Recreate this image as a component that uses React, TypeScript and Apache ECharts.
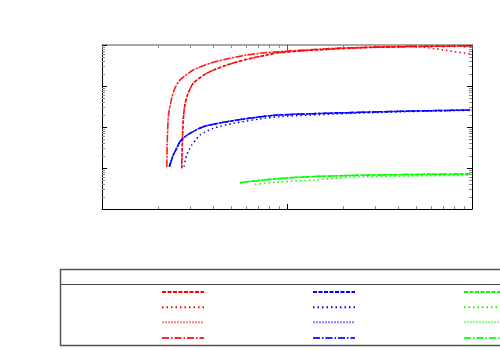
import React, { useEffect, useRef } from "react";
import * as echarts from "echarts";

// Red curves
const RED_LEFT_X = [2.237, 2.259, 2.288, 2.381, 2.481, 2.64, 3.116, 3.836, 4.722, 6.056, 7.146, 8.974, 20.07, 47.97, 100];
const RED_LEFT_Y = [10.76, 63.8, 196.2, 501, 894, 1400, 2456, 3578, 4558, 5702, 6279, 6869, 8450, 9190, 9460];
const RED_RIGHT_X = [2.697, 2.716, 2.748, 2.81, 2.899, 3.116, 3.681, 4.722, 6.056, 7.77, 8.974, 20.07, 47.97, 100];
const RED_RIGHT_Y = [9.83, 36.4, 148.2, 364, 603, 1164, 2041, 3252, 4477, 5702, 6486, 8222, 9190, 9460];
const RED_DOT_X = [2.697, 2.716, 2.748, 2.81, 2.899, 3.116, 3.681, 4.722, 6.056, 7.77, 8.974, 20.07, 47.97, 69.98, 100];
const RED_DOT_Y = [9.83, 36.4, 148.2, 364, 603, 1164, 2041, 3252, 4477, 5702, 6486, 8222, 9300, 7551, 5932];
// Blue curves
const BLUE_X = [2.311, 2.36, 2.429, 2.533, 2.64, 2.81, 2.99, 3.528, 4.722, 6.575, 8.974, 21.02, 48.17, 99.6];
const BLUE_Y = [10.76, 14.25, 20.75, 30.2, 43.8, 58.0, 70.2, 101.7, 134.6, 168.6, 196.2, 223.3, 245.6, 259.9];
const BLUE_DOT_X = [2.775, 2.82, 2.87, 2.953, 3.054, 3.21, 3.386, 3.997, 5.126, 7.146, 8.974, 21.02, 48.0, 99.6];
const BLUE_DOT_Y = [10.76, 15.67, 20.75, 27.5, 36.4, 48.2, 63.8, 92.9, 123.1, 156.7, 178.3, 213.4, 238.8, 255.5];
// Green curves
const GREEN_X = [5.571, 7.445, 11.28, 21.9, 46.23, 97.5];
const GREEN_Y = [4.38, 5.1, 5.93, 6.56, 6.94, 7.14];
const GREEN_DOT_X = [6.714, 9.166, 13.88, 21.9, 46.23, 97.5];
const GREEN_DOT_Y = [4.0, 4.56, 5.1, 5.93, 6.38, 6.64];

// Axis minor ticks
const X_MINOR_TICKS = [2, 3, 4, 5, 6, 7, 8, 9, 20, 30, 40, 50, 60, 70, 80, 90];
const Y_MINOR_TICKS = [
  2, 3, 4, 5, 6, 7, 8, 9,
  20, 30, 40, 50, 60, 70, 80, 90,
  200, 300, 400, 500, 600, 700, 800, 900,
  2000, 3000, 4000, 5000, 6000, 7000, 8000, 9000,
];

const COLORS = { R: "#ff0000", B: "#0000ff", G: "#00ff00" };
const DASHES: Record<string, number[]> = {
  A: [4, 1.5],
  B: [1.5, 3],
  C: [2, 1],
  D: [7, 2, 1.5, 2],
};
const OPAC: Record<string, number> = { A: 1, B: 1, C: 0.5, D: 0.85 };
const ROW_CENTERS = [292, 307.3, 322.3, 338];
const COL_LEFTS = [161, 312, 463];

const zip = (xs: number[], ys: number[]) => xs.map((x, i) => [x, ys[i]]);

const SERIES_DEF: { name: string; color: string; style: string; xs: number[]; ys: number[] }[] = [
  { name: "RA", color: COLORS.R, style: "A", xs: RED_RIGHT_X, ys: RED_RIGHT_Y },
  { name: "RB", color: COLORS.R, style: "B", xs: RED_DOT_X, ys: RED_DOT_Y },
  { name: "RC", color: COLORS.R, style: "C", xs: RED_LEFT_X, ys: RED_LEFT_Y },
  { name: "RD", color: COLORS.R, style: "D", xs: RED_LEFT_X, ys: RED_LEFT_Y },
  { name: "BA", color: COLORS.B, style: "A", xs: BLUE_X, ys: BLUE_Y },
  { name: "BB", color: COLORS.B, style: "B", xs: BLUE_DOT_X, ys: BLUE_DOT_Y },
  { name: "BC", color: COLORS.B, style: "C", xs: BLUE_X, ys: BLUE_Y },
  { name: "BD", color: COLORS.B, style: "D", xs: BLUE_X, ys: BLUE_Y },
  { name: "GA", color: COLORS.G, style: "A", xs: GREEN_X, ys: GREEN_Y },
  { name: "GB", color: COLORS.G, style: "B", xs: GREEN_DOT_X, ys: GREEN_DOT_Y },
  { name: "GC", color: COLORS.G, style: "C", xs: GREEN_X, ys: GREEN_Y },
  { name: "GD", color: COLORS.G, style: "D", xs: GREEN_X, ys: GREEN_Y },
];

export default function App() {
  const ref = useRef<HTMLDivElement>(null);
  useEffect(() => {
    if (!ref.current) return;
    const chart = echarts.init(ref.current, undefined, { renderer: "svg" });

    const lineSeries = SERIES_DEF.map((s) => ({
      name: s.name,
      type: "line",
      xAxisIndex: 0,
      yAxisIndex: 0,
      data: zip(s.xs, s.ys),
      showSymbol: false,
      symbol: "none",
      smooth: 0.25,
      clip: true,
      lineStyle: { color: s.color, width: 1.5, type: DASHES[s.style], opacity: OPAC[s.style] },
      itemStyle: { color: s.color },
    }));

    const tickData: number[][] = [
      ...X_MINOR_TICKS.map((v) => [v, 1, 0]),
      ...Y_MINOR_TICKS.map((v) => [1, v, 1]),
    ];

    const tickSeries = {
      type: "custom",
      name: "ticks",
      xAxisIndex: 0,
      yAxisIndex: 0,
      clip: false,
      silent: true,
      encode: { x: 0, y: 1 },
      data: tickData,
      renderItem: (params: any, api: any) => {
        const cs = params.coordSys;
        const kind = api.value(2);
        const p = api.coord([api.value(0), api.value(1)]);
        const style = { stroke: "#8a8a8a", lineWidth: 1 };
        if (kind === 0) {
          const x = Math.round(p[0]) + 0.5;
          return {
            type: "group",
            children: [
              { type: "line", shape: { x1: x, y1: cs.y + cs.height, x2: x, y2: cs.y + cs.height - 3 }, style },
              { type: "line", shape: { x1: x, y1: cs.y, x2: x, y2: cs.y + 3 }, style },
            ],
          };
        }
        const y = Math.round(p[1]) + 0.5;
        return {
          type: "group",
          children: [
            { type: "line", shape: { x1: cs.x, y1: y, x2: cs.x + 3, y2: y }, style },
            { type: "line", shape: { x1: cs.x + cs.width, y1: y, x2: cs.x + cs.width - 3, y2: y }, style },
          ],
        };
      },
    };

    const legends: any[] = [];
    const order = ["A", "B", "C", "D"];
    const cols = ["R", "B", "G"];
    order.forEach((st, r) => {
      cols.forEach((c, ci) => {
        legends.push({
          data: [c + st],
          left: COL_LEFTS[ci],
          top: ROW_CENTERS[r] - 2,
          padding: 0,
          itemWidth: 42,
          itemHeight: 4,
          itemGap: 0,
          selectedMode: false,
          formatter: () => "",
          textStyle: { fontSize: 1 },
          itemStyle: { opacity: 0 },
        });
      });
    });

    const baseX = {
      type: "log",
      logBase: 10,
      min: 1,
      max: 100,
      axisLabel: { show: false },
      splitLine: { show: false },
      minorTick: { show: false },
    };
    const baseY = {
      type: "log",
      logBase: 10,
      min: 1,
      max: 10000,
      axisLabel: { show: false },
      splitLine: { show: false },
    };

    chart.setOption({
      animation: false,
      grid: { left: 102, top: 45, width: 370, height: 164, containLabel: false },
      xAxis: [
        {
          ...baseX,
          position: "bottom",
          axisLine: { lineStyle: { color: "#000", width: 1 } },
          axisTick: { inside: true, length: 5, lineStyle: { color: "#000" } },
        },
        {
          ...baseX,
          position: "top",
          axisLine: { lineStyle: { color: "#8a8a8a", width: 1.5 } },
          axisTick: { inside: true, length: 5, lineStyle: { color: "#555" } },
        },
      ],
      yAxis: [
        {
          ...baseY,
          position: "left",
          axisLine: { show: true, lineStyle: { color: "#000", width: 1 } },
          axisTick: { show: true, inside: true, length: 5, lineStyle: { color: "#000" } },
        },
        {
          ...baseY,
          position: "right",
          axisLine: { show: true, lineStyle: { color: "#000", width: 1 } },
          axisTick: { show: true, inside: true, length: 5, lineStyle: { color: "#000" } },
        },
      ],
      legend: legends,
      graphic: [
        {
          type: "rect",
          shape: { x: 60.5, y: 269.5, width: 470, height: 76 },
          style: { fill: "none", stroke: "#555", lineWidth: 1.5 },
          silent: true,
        },
        {
          type: "line",
          shape: { x1: 61, y1: 284.5, x2: 500, y2: 284.5 },
          style: { stroke: "#444", lineWidth: 1 },
          silent: true,
        },
      ],
      series: [...lineSeries, tickSeries],
    });
    return () => chart.dispose();
  }, []);
  return (
    <div
      ref={ref}
      style={{ position: "absolute", left: 0, top: 0, width: 500, height: 350 }}
    />
  );
}
